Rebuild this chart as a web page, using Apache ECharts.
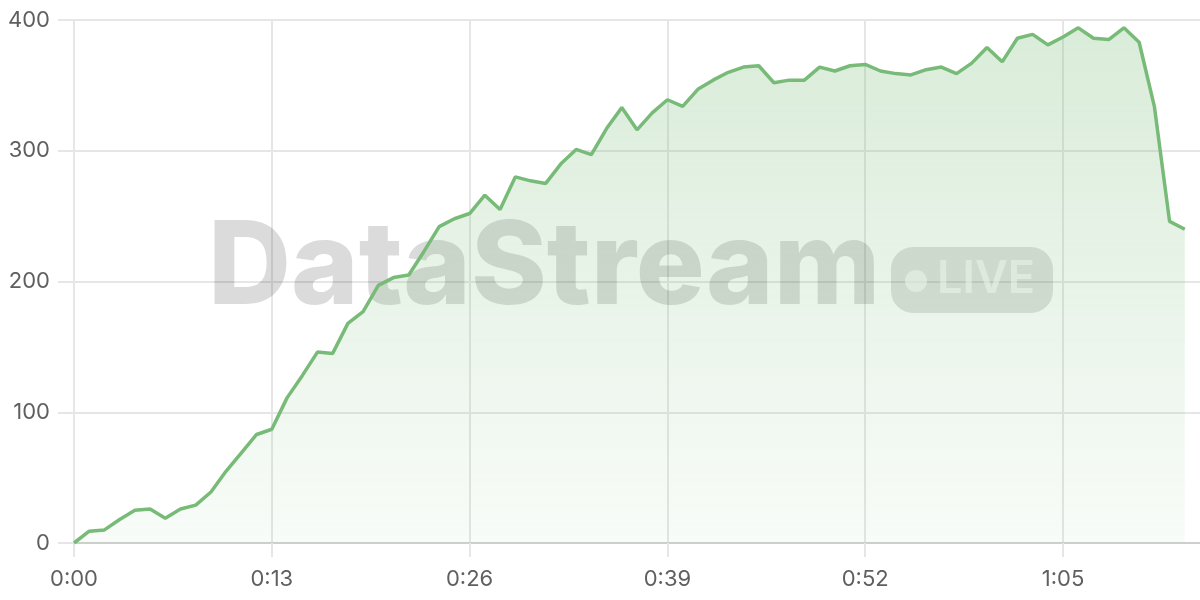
<!DOCTYPE html>
<html>
<head>
<meta charset="utf-8">
<script src="https://cdn.jsdelivr.net/npm/echarts@6/dist/echarts.min.js"></script>
<style>
  html, body { margin: 0; padding: 0; background: #fff; }
  #chart { width: 1200px; height: 600px; }
</style>
</head>
<body>
<div id="chart"></div>
<script>
// values per second
const values = [
    0, 9, 10, 18, 25, 26, 19, 26, 29, 39,
    55, 69, 83, 87, 111, 128, 146, 145, 168, 177,
    197, 203, 205, 223, 242, 248, 252, 266, 255, 280,
    277, 275, 290, 301, 297, 317, 333, 316, 329, 339,
    334, 347, 354, 360, 364, 365, 352, 354, 354, 364,
    361, 365, 366, 361, 359, 358, 362, 364, 359, 367,
    379, 368, 386, 389, 381, 387, 394, 386, 385, 394,
    383, 334, 246, 240
];
// one extra empty slot at the end, the axis runs a bit past the last point
const totalSeconds = 75;
const yTicks = [0, 100, 200, 300, 400];

// time labels m:ss
const categories = [];
for (let s = 0; s < totalSeconds; s++) {
    categories.push(Math.floor(s / 60) + ':' + String(s % 60).padStart(2, '0'));
}

const chartDom = document.getElementById('chart');
const myChart = echarts.init(chartDom);
const lineColor = '#78bb78';
const gridColor = '#e6e6e6';
const labelFont = 'Inter, "Noto Sans", sans-serif';

const option = {
    animation: false,
    grid: {
        left: 74,
        right: 0,
        top: 20,
        bottom: 57
    },
    graphic: [
        // watermark
        {
            type: 'text',
            z: 1,
            left: 208,
            top: 212,
            style: {
                text: 'DataStream',
                font: '800 115px Inter, "Noto Sans", sans-serif',
                fill: 'rgba(0,0,0,0.14)'
            }
        },
        {
            type: 'rect',
            z: 1,
            shape: { x: 891, y: 247, width: 162, height: 66, r: 22 },
            style: { fill: 'rgba(0,0,0,0.12)' }
        },
        {
            type: 'circle',
            z: 1,
            shape: { cx: 916, cy: 281, r: 11 },
            style: { fill: 'rgba(255,255,255,0.6)' }
        },
        {
            type: 'text',
            z: 1,
            left: 937,
            top: 257,
            style: {
                text: 'LIVE',
                font: '600 45px Inter, "Noto Sans", sans-serif',
                fill: 'rgba(255,255,255,0.6)'
            }
        }
    ],
    xAxis: {
        type: 'category',
        boundaryGap: false,
        data: categories,
        axisLine: { lineStyle: { color: '#cfcfcf', width: 2 } },
        axisTick: {
            show: true,
            interval: 12,
            length: 14,
            lineStyle: { color: gridColor, width: 2 }
        },
        axisLabel: {
            interval: 12,
            margin: 25,
            color: '#5f5f5f',
            fontSize: 22,
            fontFamily: labelFont
        },
        splitLine: {
            show: true,
            interval: 12,
            lineStyle: { color: gridColor, width: 2 }
        }
    },
    yAxis: {
        type: 'value',
        min: yTicks[0],
        max: yTicks[yTicks.length - 1],
        interval: 100,
        axisLine: { show: true, lineStyle: { color: gridColor, width: 2 } },
        axisTick: {
            show: true,
            length: 16,
            lineStyle: { color: gridColor, width: 2 }
        },
        axisLabel: {
            margin: 24,
            color: '#5f5f5f',
            fontSize: 22,
            fontFamily: labelFont
        },
        splitLine: {
            lineStyle: { color: gridColor, width: 2 }
        }
    },
    series: [
        {
            type: 'line',
            z: 3,
            data: values,
            showSymbol: false,
            symbol: 'none',
            lineStyle: { color: lineColor, width: 3.5 },
            areaStyle: {
                color: new echarts.graphic.LinearGradient(0, 0, 0, 1, [
                    { offset: 0, color: 'rgba(120,187,120,0.4)' },
                    { offset: 1, color: 'rgba(120,187,120,0.07)' }
                ])
            }
        }
    ]
};

option && myChart.setOption(option);
</script>
</body>
</html>
